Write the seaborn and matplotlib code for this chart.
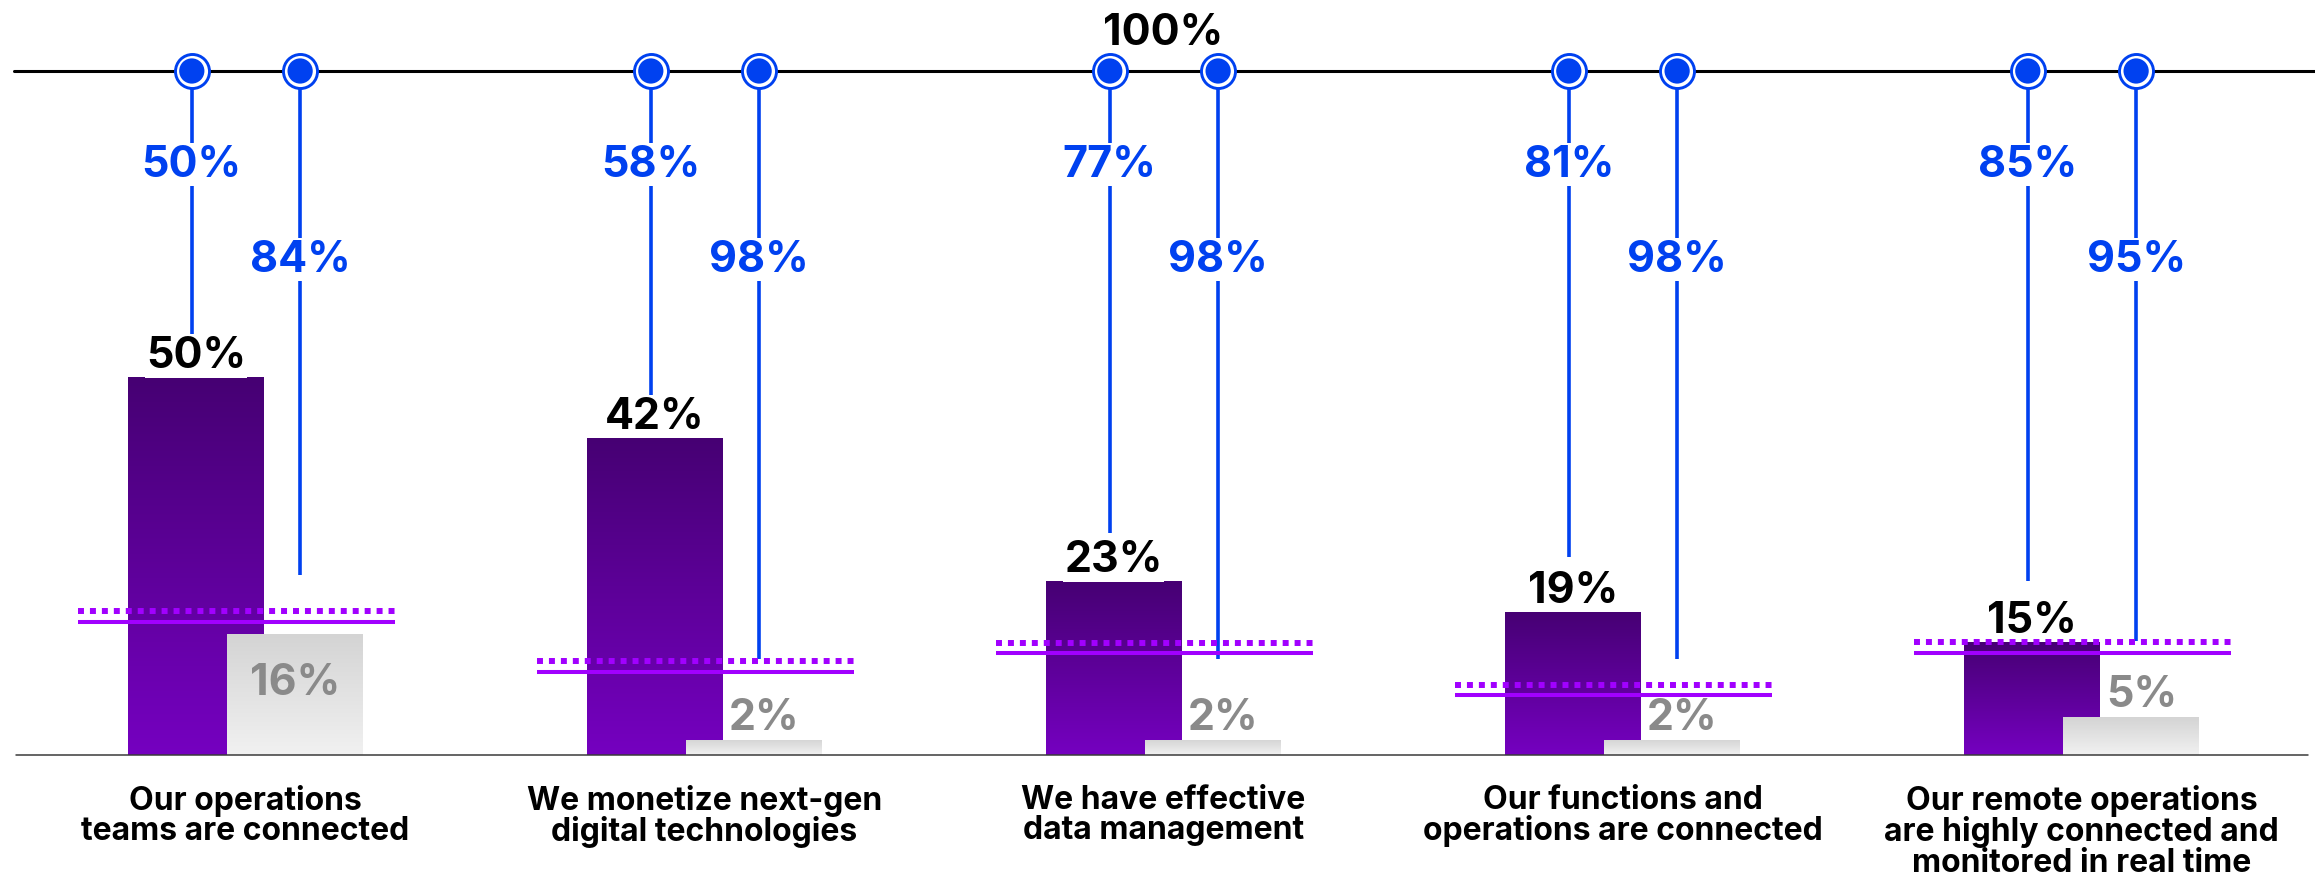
import numpy as np
import pandas as pd
import matplotlib
matplotlib.use("Agg")
import matplotlib.pyplot as plt
import seaborn as sns
from matplotlib.colors import LinearSegmentedColormap

# ---- data -------------------------------------------------------------
categories = [
    "Our operations\nteams are connected",
    "We monetize next-gen\ndigital technologies",
    "We have effective\ndata management",
    "Our functions and\noperations are connected",
    "Our remote operations\nare highly connected and\nmonitored in real time",
]
leader_share = [50, 42, 23, 19, 15]          # dark purple bars
other_share = [16, 2, 2, 2, 5]               # light grey bars
leader_gap = [50, 58, 77, 81, 85]            # stems from the 100% line (left)
other_gap = [84, 98, 98, 98, 95]             # stems from the 100% line (right)
benchmark_dotted = [19.1, 12.4, 14.8, 9.3, 15.0]
benchmark_solid = [17.6, 11.0, 13.5, 7.9, 13.5]

# ---- style ------------------------------------------------------------
W, H, DPI = 2315, 878, 100
BLUE = "#0041F0"
VIOLET = "#A100FF"
PURPLE_TOP, PURPLE_BOTTOM = "#460073", "#7500C0"
GREY_TOP, GREY_BOTTOM = "#D4D4D4", "#F1F1F1"
GREY_TEXT = "#8A8A8A"
NUM_SIZE = 31
CAT_SIZE = 23

sns.set_theme(style="white")
plt.rcParams["font.family"] = ["Inter", "DejaVu Sans"]

# layout in pixels
BASE_PX = 122          # baseline height above the bottom edge
BAR_SCALE = 7.55       # px per percentage point for bars
TOP_PX = 806           # height of the 100% line above the bottom edge
STEM_SCALE = 6.0       # px per percentage point for stems
GROUP0_PX, GROUP_PX = 245.5, 459.0
BAR_W = 0.296
BAR_OFF = 0.108
STEM_L, STEM_R = -0.117, 0.119

fig = plt.figure(figsize=(W / DPI, H / DPI), dpi=DPI)
fig.patch.set_facecolor("white")
xlim = (-GROUP0_PX / GROUP_PX, (W - GROUP0_PX) / GROUP_PX)

# stems axis (underneath)
ax2 = fig.add_axes([0, 0, 1, 1], zorder=1)
stem_zero = TOP_PX - 100 * STEM_SCALE
ax2.set_ylim(-stem_zero / STEM_SCALE, (H - stem_zero) / STEM_SCALE)
ax2.set_xlim(*xlim)
ax2.set_axis_off()

# bars axis (on top, transparent)
ax = fig.add_axes([0, 0, 1, 1], zorder=2)
ax.patch.set_alpha(0)

idx = np.arange(len(categories))


def gradient_fill(axis, patches, top, bottom, z):
    cmap = LinearSegmentedColormap.from_list("grad", [bottom, top])
    grad = np.linspace(0, 1, 256).reshape(-1, 1)
    for p in patches:
        x0, y0, w, h = p.get_x(), p.get_y(), p.get_width(), p.get_height()
        im = axis.imshow(grad, extent=[x0, x0 + w, y0, y0 + h], origin="lower",
                         aspect="auto", cmap=cmap, zorder=z, interpolation="bilinear")
        im.set_clip_path(p)
        p.set_facecolor("none")
        p.set_edgecolor("none")


lead_df = pd.DataFrame({"pos": idx - BAR_OFF, "share": leader_share})
other_df = pd.DataFrame({"pos": idx + BAR_OFF, "share": other_share})

n0 = len(ax.patches)
sns.barplot(data=lead_df, x="pos", y="share", native_scale=True, width=BAR_W,
            color=PURPLE_BOTTOM, ax=ax, zorder=2)
lead_patches = ax.patches[n0:]
n1 = len(ax.patches)
sns.barplot(data=other_df, x="pos", y="share", native_scale=True, width=BAR_W,
            color=GREY_BOTTOM, ax=ax, zorder=3)
other_patches = ax.patches[n1:]
gradient_fill(ax, lead_patches, PURPLE_TOP, PURPLE_BOTTOM, 2)
gradient_fill(ax, other_patches, GREY_TOP, GREY_BOTTOM, 3)

# benchmark lines
for i in idx:
    c = i - 0.02
    ax.hlines(benchmark_dotted[i], c - 0.345, c + 0.345, color=VIOLET, lw=4.3,
              linestyles=(0, (1, 1)), zorder=6, capstyle="butt")
    ax.hlines(benchmark_solid[i], c - 0.345, c + 0.345, color=VIOLET, lw=2.9, zorder=6)

# value labels on bars
for p, v in zip(lead_patches, leader_share):
    ax.annotate(f"{v}%", (p.get_x() + p.get_width() / 2, v), xytext=(0, 7.2),
                textcoords="offset points", ha="center", va="baseline",
                fontsize=NUM_SIZE, fontweight="bold", color="black", zorder=5,
                bbox=dict(fc="white", ec="none", pad=1))
for p, v in zip(other_patches, other_share):
    inside = v >= 10
    ax.annotate(f"{v}%", (p.get_x() + p.get_width() / 2, v),
                xytext=(0, -43) if inside else (7.5, 7.8), textcoords="offset points",
                ha="center", va="baseline", fontsize=NUM_SIZE, fontweight="bold",
                color=GREY_TEXT, zorder=5)

# baseline
ax.axhline(0, xmin=16 / W, xmax=2308 / W, color="#3a3a3a", lw=1.1, zorder=7)

# category labels
for i, cat in zip(idx, categories):
    ax.annotate(cat, (i, 0), xytext=(0, -21), textcoords="offset points",
                ha="center", va="top", multialignment="center", fontsize=CAT_SIZE,
                fontweight="bold", color="black", linespacing=0.97)

ax.set_ylim(-BASE_PX / BAR_SCALE, (H - BASE_PX) / BAR_SCALE)
ax.set_xlim(*xlim)
ax.set_axis_off()

# stems hanging from the 100% line
ax2.axhline(100, xmin=14 / W, xmax=1, color="black", lw=2.2, zorder=1)
left_x = idx + STEM_L
right_x = idx + STEM_R
ax2.vlines(left_x, [100 - g for g in leader_gap], 100, color=BLUE, lw=2.6, zorder=2)
ax2.vlines(right_x, [100 - g for g in other_gap], 100, color=BLUE, lw=2.6, zorder=2)
all_x = np.concatenate([left_x, right_x])
ax2.scatter(all_x, np.full(all_x.shape, 100), s=600, facecolor="white",
            edgecolor=BLUE, linewidth=2.1, zorder=3)
ax2.scatter(all_x, np.full(all_x.shape, 100), s=330, facecolor=BLUE,
            edgecolor="none", zorder=4)

for x, g in zip(left_x, leader_gap):
    ax2.text(x, 82.5, f"{g}%", ha="center", va="baseline", fontsize=NUM_SIZE,
             fontweight="bold", color=BLUE, zorder=5,
             bbox=dict(fc="white", ec="none", pad=1))
for x, g in zip(right_x, other_gap):
    ax2.text(x, 66.7, f"{g}%", ha="center", va="baseline", fontsize=NUM_SIZE,
             fontweight="bold", color=BLUE, zorder=5,
             bbox=dict(fc="white", ec="none", pad=1))

ax2.annotate("100%", (2, 100), xytext=(0, 19.4), textcoords="offset points",
             ha="center", va="baseline", fontsize=NUM_SIZE, fontweight="bold",
             color="black")

fig.savefig("out.png", dpi=DPI, facecolor="white")
